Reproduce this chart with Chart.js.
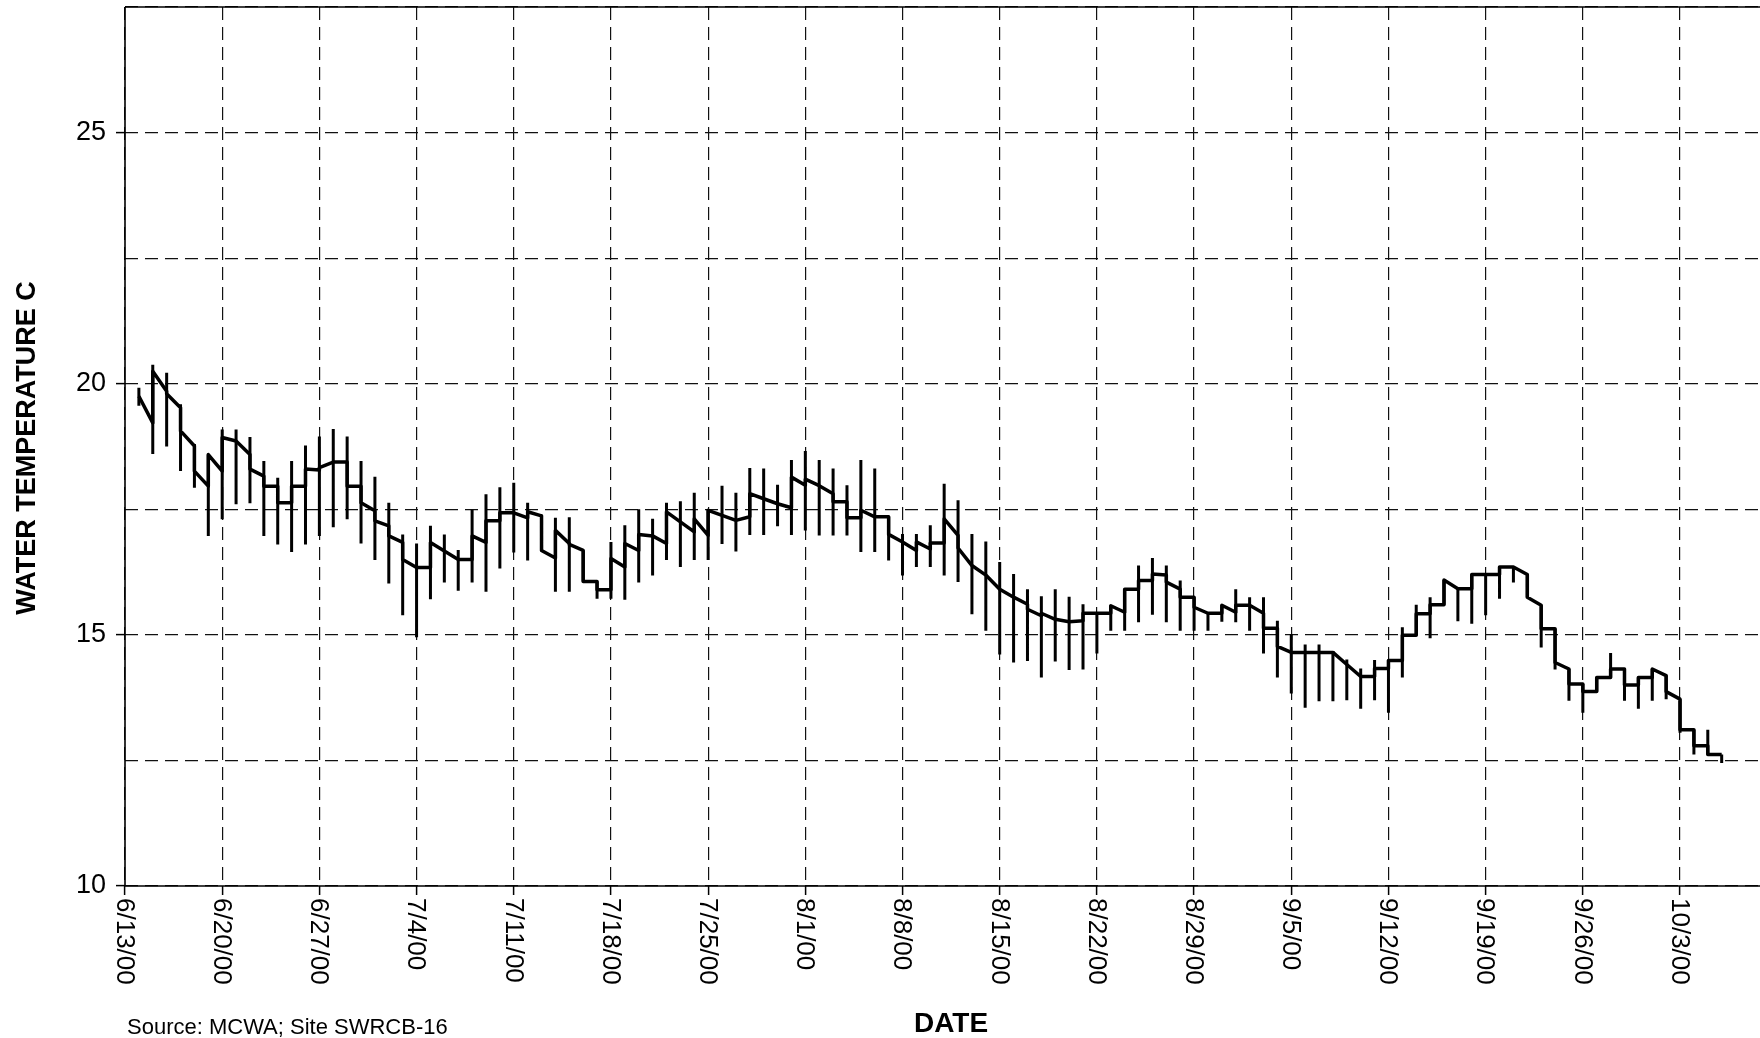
<!DOCTYPE html>
<html>
<head>
<meta charset="utf-8">
<script src="https://cdn.jsdelivr.net/npm/chart.js@4.4.1/dist/chart.umd.min.js"></script>
<style>
html,body{margin:0;padding:0;background:#fff;overflow:hidden}
canvas{display:block}
</style>
</head>
<body>
<canvas id="c" width="1760" height="1038"></canvas>
<script>
// Days are counted from 6/13/00 (day 0). First reading is 6/14/00 (day 1), one reading per day to 10/6/00.
const firstDay = 1;

// Daily maximum water temperature (top of each vertical bar), 6/14/00 .. 10/6/00
const dailyMax = [
  19.92,20.38,20.22,19.59,18.80,18.59,19.09,19.09,18.94,18.46,18.13,18.46,18.77,18.95,19.10,18.95,18.46,
  18.15,17.63,17.00,16.82,17.17,17.00,16.69,17.49,17.80,17.94,18.03,17.63,17.38,17.33,17.34,16.68,16.06,
  16.85,17.18,17.50,17.31,17.63,17.66,17.83,17.50,17.97,17.83,18.32,18.31,17.99,18.48,
  18.66,18.48,18.31,17.98,18.48,18.31,17.35,17.01,17.01,17.18,18.01,17.68,17.01,16.86,16.45,16.21,15.91,
  15.77,15.91,15.76,15.61,15.41,15.59,15.91,16.38,16.53,16.38,16.08,15.75,15.43,15.59,
  15.91,15.75,15.75,15.28,15.01,14.81,14.81,14.68,14.51,14.33,14.50,14.50,15.15,15.60,15.75,16.09,15.92,
  16.20,16.20,16.35,16.35,16.20,15.59,15.12,14.32,14.02,14.15,14.64,14.32,14.15,
  14.32,14.19,13.72,13.11,13.11,12.62
];

// Daily minimum water temperature (bottom of each vertical bar)
const dailyMin = [
  19.56,18.60,18.75,18.26,17.93,16.97,17.30,17.60,17.62,16.97,16.80,16.65,16.80,16.97,17.14,17.30,16.82,
  16.49,16.02,15.39,14.95,15.71,16.04,15.88,16.04,15.86,16.32,16.64,16.48,16.68,15.86,15.86,16.06,15.72,
  15.72,15.70,16.04,16.18,16.49,16.35,16.49,16.49,16.81,16.66,16.99,16.99,17.16,16.99,
  17.08,16.98,16.98,16.98,16.65,16.65,16.48,16.18,16.35,16.35,16.18,16.05,15.41,15.08,14.61,14.45,14.48,
  14.15,14.47,14.30,14.31,14.63,15.08,15.08,15.25,15.40,15.25,15.08,15.08,15.08,15.26,
  15.25,15.08,14.63,14.15,13.83,13.55,13.68,13.68,13.70,13.53,13.70,13.45,14.15,14.99,14.93,15.60,15.27,
  15.22,15.39,15.72,16.04,15.75,14.75,14.31,13.69,13.45,13.87,14.15,13.69,13.53,
  13.69,13.72,13.05,12.62,12.62,12.45
];

// Daily mean trace: value where the trace arrives at the day, and value where it leaves the day
const meanIn = [
  19.75,19.22,19.85,19.52,18.76,17.96,18.26,18.86,18.59,18.16,17.96,17.63,17.96,18.28,18.44,18.44,17.96,
  17.47,17.17,16.84,16.34,16.34,16.67,16.50,16.50,16.84,17.27,17.43,17.33,17.37,16.53,16.82,16.68,16.06,
  15.90,16.35,16.68,16.97,16.82,17.25,17.05,16.98,17.38,17.28,17.35,17.71,17.61,17.53,
  17.98,17.97,17.81,17.65,17.33,17.35,17.35,16.85,16.68,16.71,16.83,16.98,16.38,16.19,15.91,15.75,15.61,
  15.38,15.31,15.26,15.28,15.43,15.43,15.45,15.91,16.08,16.19,15.91,15.75,15.43,15.43,
  15.45,15.59,15.43,15.13,14.65,14.65,14.65,14.65,14.41,14.17,14.17,14.33,14.49,14.99,15.42,15.60,15.92,
  15.92,16.20,16.20,16.35,16.20,15.59,15.12,14.32,14.02,13.87,14.15,14.32,14.00,
  14.15,14.19,13.72,13.11,12.79,12.62
];
const meanOut = [
  19.75,20.25,19.80,19.06,18.26,18.59,18.93,18.86,18.30,17.96,17.63,17.96,18.30,18.33,18.44,17.96,17.63,
  17.27,16.97,16.50,16.34,16.84,16.67,16.50,16.97,17.27,17.43,17.43,17.45,16.68,17.08,16.80,16.06,15.90,
  16.52,16.82,17.00,16.97,17.45,17.25,17.31,17.48,17.38,17.28,17.81,17.71,17.61,18.14,
  18.10,17.97,17.65,17.33,17.48,17.35,17.00,16.85,16.85,16.83,17.31,16.73,16.38,16.19,15.91,15.75,15.51,
  15.43,15.31,15.26,15.43,15.43,15.58,15.91,16.08,16.21,16.05,15.75,15.55,15.43,15.59,
  15.59,15.59,15.13,14.77,14.65,14.65,14.65,14.65,14.41,14.17,14.33,14.49,14.99,15.42,15.60,16.09,15.92,
  16.20,16.20,16.35,16.35,15.75,15.12,14.45,14.02,13.87,14.15,14.32,14.00,14.15,
  14.32,13.87,13.11,12.79,12.62,12.62
];

// Axis ticks
const tickDays = [0,7,14,21,28,35,42,49,56,63,70,77,84,91,98,105,112];
const tickLabels = ['6/13/00','6/20/00','6/27/00','7/4/00','7/11/00','7/18/00','7/25/00','8/1/00','8/8/00',
  '8/15/00','8/22/00','8/29/00','9/5/00','9/12/00','9/19/00','9/26/00','10/3/00'];
const yGridValues = [10,12.5,15,17.5,20,22.5,25,27.5];
const yLabelValues = [10,15,20,25];

const xMin = 0, xMax = 117.76, yMin = 10, yMax = 27.5;

// Build datasets from the arrays
const rangePoints = [];
const meanPoints = [];
for (let i = 0; i < dailyMax.length; i++) {
  const d = firstDay + i;
  rangePoints.push({x: d, y: dailyMin[i]}, {x: d, y: dailyMax[i]}, {x: d, y: null});
  meanPoints.push({x: d, y: meanIn[i]}, {x: d, y: meanOut[i]});
}

const FONT = '"Liberation Sans", Arial, Helvetica, sans-serif';

const decor = {
  id: 'decor',
  afterDraw(chart) {
    const ctx = chart.ctx;
    const xs = chart.scales.x, ys = chart.scales.y;
    const a = chart.chartArea;
    ctx.save();
    // solid frame lines: left axis, bottom axis, top border
    ctx.strokeStyle = '#000';
    ctx.lineWidth = 1.6;
    ctx.setLineDash([]);
    ctx.beginPath();
    ctx.moveTo(a.left, a.top); ctx.lineTo(a.left, a.bottom);
    ctx.moveTo(a.left, a.bottom); ctx.lineTo(a.right, a.bottom);
    ctx.moveTo(a.left, a.top); ctx.lineTo(a.right, a.top);
    ctx.stroke();

    ctx.fillStyle = '#000';
    // y tick labels
    ctx.font = '27px ' + FONT;
    ctx.textAlign = 'right';
    ctx.textBaseline = 'middle';
    yLabelValues.forEach(v => {
      ctx.fillText(String(v), a.left - 19, ys.getPixelForValue(v));
    });
    // x tick labels, rotated clockwise
    ctx.font = '26px ' + FONT;
    ctx.textAlign = 'left';
    tickDays.forEach((v, i) => {
      const px = xs.getPixelForValue(v);
      ctx.save();
      ctx.translate(px, a.bottom + 12);
      ctx.rotate(Math.PI / 2);
      ctx.fillText(tickLabels[i], 0, 1);
      ctx.restore();
    });
    // axis titles
    ctx.font = 'bold 27px ' + FONT;
    ctx.textAlign = 'center';
    ctx.save();
    ctx.translate(28, 448);
    ctx.rotate(-Math.PI / 2);
    ctx.fillText('WATER TEMPERATURE C', 0, 0);
    ctx.restore();
    ctx.font = 'bold 28px ' + FONT;
    ctx.fillText('DATE', 951, 1024);
    // source note
    ctx.font = '22px ' + FONT;
    ctx.textAlign = 'left';
    ctx.fillText('Source: MCWA; Site SWRCB-16', 127, 1028);
    ctx.restore();
  }
};

new Chart(document.getElementById('c'), {
  type: 'line',
  data: {
    datasets: [
      {
        label: 'Daily range',
        data: rangePoints,
        borderColor: '#000',
        borderWidth: 3,
        pointRadius: 0,
        spanGaps: false,
        tension: 0,
        fill: false
      },
      {
        label: 'Daily mean',
        data: meanPoints,
        borderColor: '#000',
        borderWidth: 3.5,
        borderJoinStyle: 'round',
        pointRadius: 0,
        tension: 0,
        fill: false
      }
    ]
  },
  options: {
    responsive: false,
    animation: false,
    devicePixelRatio: 1,
    layout: {padding: {top: 7, left: 0, right: 0, bottom: 0}},
    plugins: {legend: {display: false}, tooltip: {enabled: false}},
    scales: {
      x: {
        type: 'linear',
        min: xMin, max: xMax,
        afterBuildTicks: s => { s.ticks = tickDays.map(v => ({value: v})); },
        ticks: {display: false},
        grid: {color: '#111', lineWidth: 1.2, tickLength: 9, tickColor: '#000', tickWidth: 1.5, drawTicks: true},
        border: {display: false, dash: [13, 7]},
        afterFit: s => { s.height = 152; }
      },
      y: {
        type: 'linear',
        min: yMin, max: yMax,
        afterBuildTicks: s => { s.ticks = yGridValues.map(v => ({value: v})); },
        ticks: {display: false},
        grid: {
          color: '#111', lineWidth: 1.2, tickLength: 9, tickWidth: 1.5, drawTicks: true,
          tickColor: c => (c.tick && yLabelValues.includes(c.tick.value)) ? '#000' : 'rgba(0,0,0,0)'
        },
        border: {display: false, dash: [13, 7]},
        afterFit: s => { s.width = 125; }
      }
    }
  },
  plugins: [decor]
});
</script>
</body>
</html>
